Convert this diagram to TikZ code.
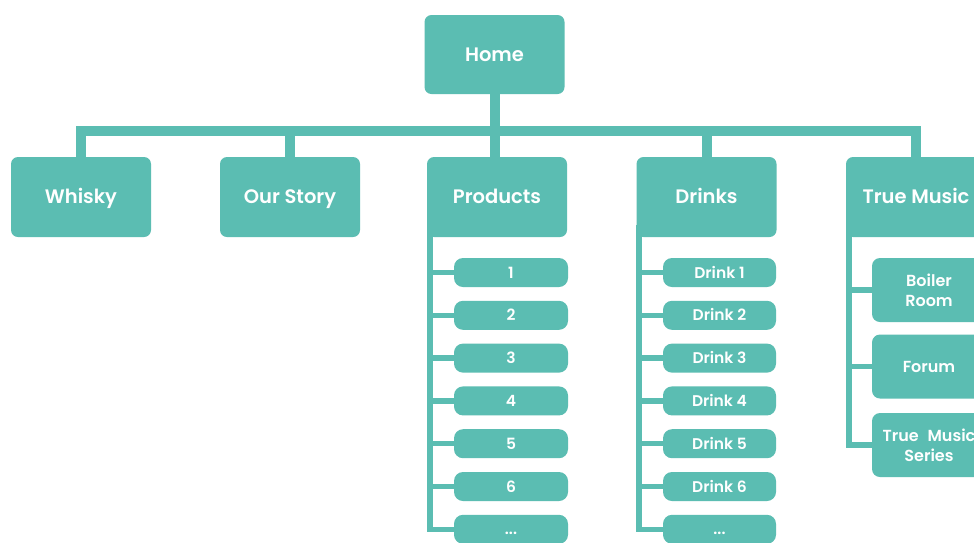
\documentclass[tikz,border=0pt]{standalone}
\usepackage{fontspec}
\setmainfont{Poppins}
\newfontfamily\labelfont{Poppins SemiBold}
\usetikzlibrary{calc}
\definecolor{sitefill}{RGB}{91,189,178}

\begin{document}
\begin{tikzpicture}[x=1pt,y=-1pt,
  pagebox/.style={fill=sitefill, rounded corners=7pt, text=white,
    font=\labelfont\fontsize{19.5pt}{22pt}\selectfont,
    text height=13.5pt, text depth=0pt,
    minimum width=140pt, minimum height=80pt, inner sep=0pt},
  subbox/.style={fill=sitefill, rounded corners=9pt, text=white,
    font=\labelfont\fontsize{15.5pt}{18pt}\selectfont,
    text height=11pt, text depth=0pt,
    minimum width=114pt, minimum height=29pt, inner sep=0pt},
  musicbox/.style={fill=sitefill, rounded corners=8pt, text=white,
    font=\labelfont\fontsize{16pt}{20pt}\selectfont,
    minimum width=114pt, minimum height=64pt, inner sep=0pt, align=center},
  trunk/.style={draw=sitefill, line width=10pt},
  branch/.style={draw=sitefill, line width=5.5pt}]

\useasboundingbox (0,0) rectangle (974,542);
\fill[white] (0,0) rectangle (974,542);
\clip (0,0) rectangle (974,542);

% top level
\node[pagebox, minimum height=79pt] (home) at (494.5,54.5) {Home};

% second level
\node[pagebox] (whisky)   at (81,197)    {Whisky};
\node[pagebox] (story)    at (290,197)   {Our Story};
\node[pagebox] (products) at (497,197)   {Products};
\node[pagebox] (drinks)   at (706.5,197) {Drinks};
\node[pagebox] (music)    at (916,197)   {True Music};

% product pages
\node[subbox] (p1)    at (511,272.5) {1};
\node[subbox] (p2)    at (511,315.3) {2};
\node[subbox] (p3)    at (511,358.1) {3};
\node[subbox] (p4)    at (511,400.9) {4};
\node[subbox] (p5)    at (511,443.7) {5};
\node[subbox] (p6)    at (511,486.5) {6};
\node[subbox] (pmore) at (511,529.3) {...};

% drink pages
\node[subbox, minimum width=113pt] (d1)    at (719.5,272.5) {Drink 1};
\node[subbox, minimum width=113pt] (d2)    at (719.5,315.3) {Drink 2};
\node[subbox, minimum width=113pt] (d3)    at (719.5,358.1) {Drink 3};
\node[subbox, minimum width=113pt] (d4)    at (719.5,400.9) {Drink 4};
\node[subbox, minimum width=113pt] (d5)    at (719.5,443.7) {Drink 5};
\node[subbox, minimum width=113pt] (d6)    at (719.5,486.5) {Drink 6};
\node[subbox, minimum width=113pt] (dmore) at (719.5,529.3) {...};

% music pages
\node[musicbox] (boiler) at (929,290)   {Boiler\\Room};
\node[musicbox] (forum)  at (929,366.5) {Forum};
\node[musicbox] (series) at (929,445)   {True\hspace{0.55em}Music\\Series};

% main tree
\coordinate (barlevel) at (0,131);
\draw[trunk] (home.south) -- (home.south |- products.north);
\draw[trunk] (whisky.north) -- (whisky.north |- barlevel)
  -- (music.north |- barlevel) -- (music.north);
\draw[trunk] (story.north) -- (story.north |- barlevel);
\draw[trunk] (drinks.north) -- (drinks.north |- barlevel);

% product rail
\coordinate (prail) at ($(products.south west)+(3,-12)$);
\draw[branch] (prail) -- (prail |- pmore) -- (pmore.west);
\foreach \n in {p1,p2,p3,p4,p5,p6}
  \draw[branch] (prail |- \n) -- (\n.west);

% drink rail
\coordinate (drail) at ($(drinks.south west)+(2.5,-12)$);
\draw[branch] (drail) -- (drail |- dmore) -- (dmore.west);
\foreach \n in {d1,d2,d3,d4,d5,d6}
  \draw[branch] (drail |- \n) -- (\n.west);

% music rail
\coordinate (mrail) at ($(music.south west)+(3,-12)$);
\draw[branch] (mrail) -- (mrail |- series) -- (series.west);
\foreach \n in {boiler,forum}
  \draw[branch] (mrail |- \n) -- (\n.west);
\end{tikzpicture}
\end{document}
